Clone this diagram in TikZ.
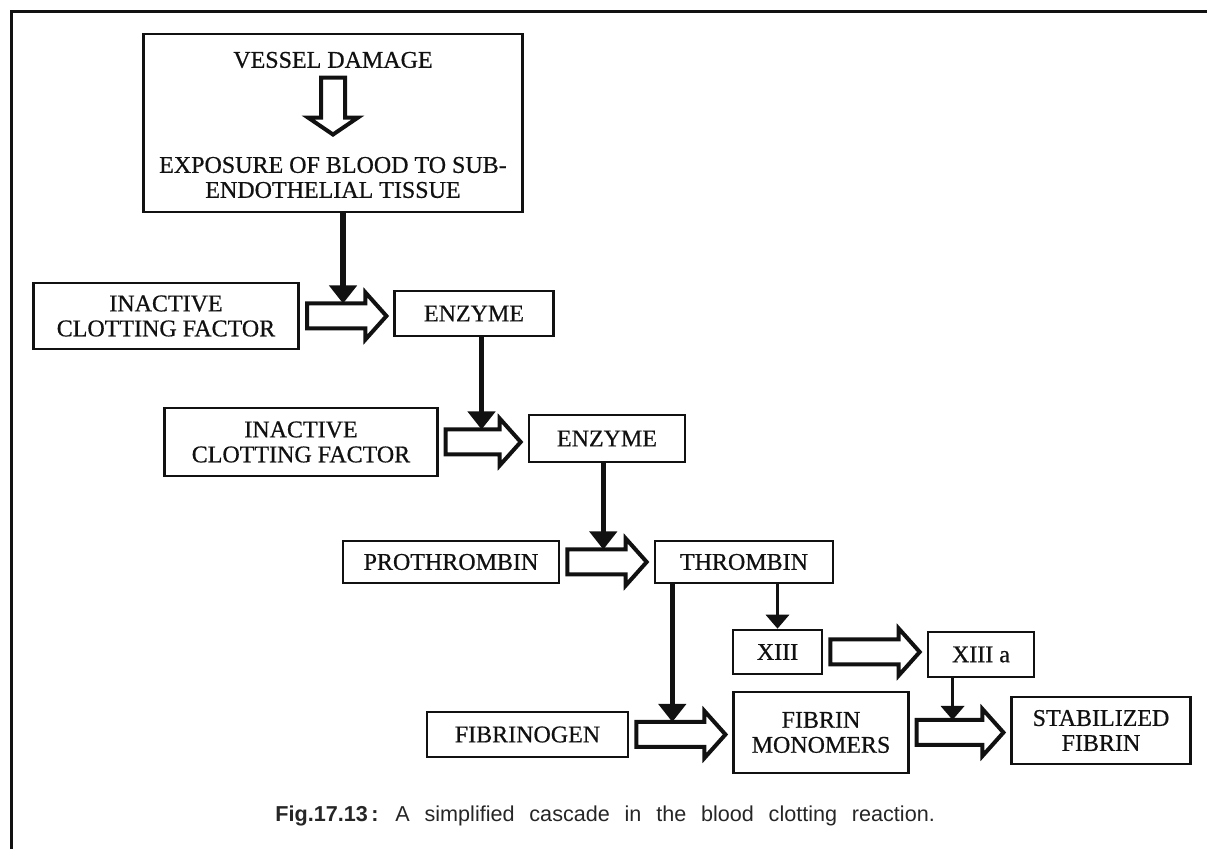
\documentclass[tikz,border=0pt]{standalone}
\usepackage{fontspec}
\setmainfont{Liberation Serif}
\newfontfamily\boxfont{Liberation Serif}[FakeBold=0.6]
\newfontfamily\capfont{Liberation Sans}
\usetikzlibrary{arrows.meta, calc}

% hollow block arrow from the box #1 to the box #2, at the height of #1;
% it also leaves a coordinate (#2-in) on top of its shaft for a side input
\newcommand{\fatright}[2]{%
  \draw[hollow] let \p1 = (#1.east), \p2 = (#2.west) in
    (\x1+3.5pt, \y1+6.25pt) -- (\x2-14pt, \y1+6.25pt)
    -- (\x2-14pt, \y1+11.75pt) -- (\x2-3.5pt, \y1)
    -- (\x2-14pt, \y1-11.75pt) -- (\x2-14pt, \y1-6.25pt)
    -- (\x1+3.5pt, \y1-6.25pt) -- cycle
    (\x1+21.5pt, \y1+6.25pt) coordinate (#2-in);
}

\begin{document}
\begin{tikzpicture}[x=0.5pt, y=-0.5pt]

% ---------------------------------------------------------------- colours
\definecolor{ink}{HTML}{111111}      % boxes, arrows, text
\definecolor{captext}{HTML}{262626}  % the figure caption

% ---------------------------------------------------------------- styles
\tikzset{
    box/.style={draw=ink, line width=1.3pt, inner sep=0pt, align=center,
                text=ink, font=\boxfont\fontsize{12}{12.5}\selectfont},
    label/.style={inner sep=0pt, align=center, text=ink,
                  font=\boxfont\fontsize{12}{12.5}\selectfont},
    hollow/.style={draw=ink, fill=white, line width=2pt, line join=miter},
    drop/.style={draw=ink, line width=2.8pt,
                 -{Triangle[width=13.5pt, length=9pt]}},
    thindrop/.style={draw=ink, line width=1.8pt,
                     -{Triangle[width=11.5pt, length=7pt]}},
    frame/.style={draw=ink, line width=1.5pt},
}

% the picture is laid out in pixels of the page, y running down
\useasboundingbox (0,0) rectangle (1207,849);
\draw[frame] (1207,12) -- (11,12) -- (11,849);

% ---------------------------------------------------------------- the cause
\node[box, minimum width=189.5pt, minimum height=89pt] (vessel) at (333,123) {};
\node[label] (damage) at (333,60) {VESSEL DAMAGE};
\node[label] (exposure) at (333,177.5) {EXPOSURE OF BLOOD TO SUB-\\ENDOTHELIAL TISSUE};

\draw[hollow] let \p1 = (damage.south), \p2 = (exposure.north) in
    (\x1-6pt, \y1-4.5pt) -- (\x1-6pt, \y2+19.5pt)
    -- (\x1-12.5pt, \y2+19.5pt) -- (\x1, \y2+11pt)
    -- (\x1+12.5pt, \y2+19.5pt) -- (\x1+6pt, \y2+19.5pt)
    -- (\x1+6pt, \y1-4.5pt) -- cycle;

% ---------------------------------------------------------------- the cascade
\node[box, minimum width=132.75pt, minimum height=33pt] (inactive1) at (166,316)
    {INACTIVE\\CLOTTING FACTOR};
\node[box, minimum width=79.25pt, minimum height=22.5pt] (enzyme1) at (474,313.5)
    {ENZYME};

\node[box, minimum width=136.25pt, minimum height=34pt] (inactive2) at (301,442)
    {INACTIVE\\CLOTTING FACTOR};
\node[box, minimum width=78pt, minimum height=23.5pt] (enzyme2) at (607,438.5)
    {ENZYME};

\node[box, minimum width=108pt, minimum height=21pt] (prothrombin) at (451,562)
    {PROTHROMBIN};
\node[box, minimum width=89pt, minimum height=21pt] (thrombin) at (744,562)
    {THROMBIN};

\node[box, minimum width=44.5pt, minimum height=22pt] (xiii) at (777.5,652)
    {XIII};
\node[box, minimum width=53pt, minimum height=22.5pt] (xiiia) at (981,654.5)
    {XIII a};

\node[box, minimum width=100.5pt, minimum height=22.5pt] (fibrinogen) at (527.5,734.5)
    {FIBRINOGEN};
\node[box, minimum width=87.25pt, minimum height=40.5pt] (fibrin) at (821,732.5)
    {FIBRIN\\MONOMERS};
\node[box, minimum width=89.25pt, minimum height=33.5pt] (stabilized) at (1101,730.5)
    {STABILIZED\\FIBRIN};

% each step turns the inactive form into the active one
\fatright{inactive1}{enzyme1}
\fatright{inactive2}{enzyme2}
\fatright{prothrombin}{thrombin}
\fatright{xiii}{xiiia}
\fatright{fibrinogen}{fibrin}
\fatright{fibrin}{stabilized}

% and the product of each step drives the next one
\draw[drop] (vessel.south -| enzyme1-in) -- (enzyme1-in);
\draw[drop] (enzyme1.south -| enzyme2-in) -- (enzyme2-in);
\draw[drop] (enzyme2.south -| thrombin-in) -- (thrombin-in);
\draw[drop] (thrombin.south -| fibrin-in) -- (fibrin-in);
\draw[thindrop] (thrombin.south -| xiii.north) -- (xiii.north);
\draw[thindrop] (xiiia.south -| stabilized-in) -- (stabilized-in);

% ---------------------------------------------------------------- caption
% the printed caption has very wide word spaces
\node[anchor=base west, inner sep=0pt, text=captext,
      font=\capfont\fontsize{10.8}{12}\selectfont] (caption) at (275,822)
    {\spaceskip=7.4pt\textbf{Fig.17.13\,:} A simplified cascade in the blood clotting reaction.};

\end{tikzpicture}
\end{document}
